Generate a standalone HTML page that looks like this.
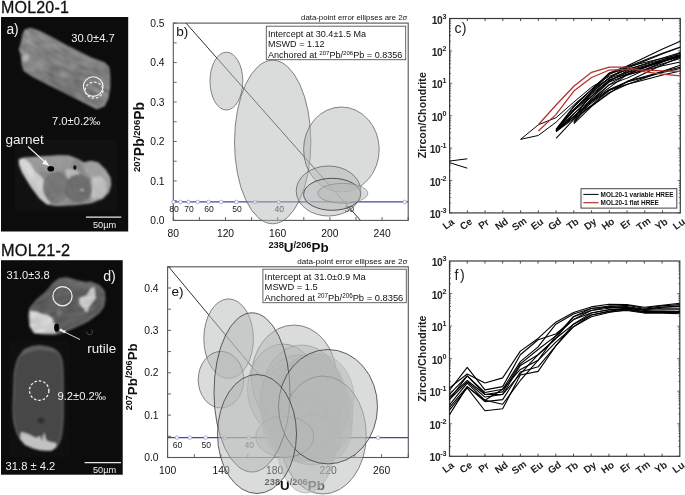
<!DOCTYPE html>
<html><head><meta charset="utf-8"><style>
html,body{margin:0;padding:0;background:#fff;width:685px;height:495px;overflow:hidden}
svg{display:block;will-change:transform}
text{font-family:"Liberation Sans", sans-serif}
</style></head><body>
<svg width="685" height="495" viewBox="0 0 685 495">
<defs>
<filter id="blur" x="-10%" y="-10%" width="120%" height="120%"><feGaussianBlur stdDeviation="0.9"/></filter>
<filter id="noise" x="0" y="0" width="100%" height="100%" color-interpolation-filters="sRGB"><feTurbulence type="fractalNoise" baseFrequency="0.08 0.25" numOctaves="2" seed="4"/><feColorMatrix type="matrix" values="1 0 0 0 0  1 0 0 0 0  1 0 0 0 0  0 0 0 0 0.3"/><feComposite in2="SourceGraphic" operator="in"/></filter>
</defs>
<text x="1" y="12.7" font-size="16.0" fill="#111" font-weight="normal" text-anchor="start" letter-spacing="0.2" stroke="#111" stroke-width="0.3">MOL20-1</text>
<text x="1" y="255.6" font-size="16.3" fill="#111" font-weight="normal" text-anchor="start" letter-spacing="0.2" stroke="#111" stroke-width="0.3">MOL21-2</text>
<rect x="1" y="17" width="127.2" height="214.5" fill="#0c0c0d"/>
<rect x="1" y="260.2" width="121.7" height="214.5" fill="#0c0c0d"/>
<rect x="15" y="139.7" width="102" height="72" fill="#111"/>
<rect x="9" y="341" width="60" height="116" fill="#0f0f0f"/>
<g filter="url(#blur)">
<clipPath id="clipA"><polygon points="25,30.2 30.5,28.4 38.6,31.1 51.4,37.5 69.5,47.5 91.4,58.4 104.1,62.9 108.6,67.5 109.5,76.5 109.5,87.5 107.7,98.4 104.1,105.6 96.8,108.4 87.7,103.8 69.5,94.7 51.4,85.6 33.2,76.5 24.1,70.2 22.3,63.8 21.4,54.7 19.5,49.3 21.4,43.8 23.2,34.7"/></clipPath>
<polygon points="25,30.2 30.5,28.4 38.6,31.1 51.4,37.5 69.5,47.5 91.4,58.4 104.1,62.9 108.6,67.5 109.5,76.5 109.5,87.5 107.7,98.4 104.1,105.6 96.8,108.4 87.7,103.8 69.5,94.7 51.4,85.6 33.2,76.5 24.1,70.2 22.3,63.8 21.4,54.7 19.5,49.3 21.4,43.8 23.2,34.7" fill="#7c7c7c" stroke="#959595" stroke-width="1.4"/>
<polygon points="25,30.2 30.5,28.4 38.6,31.1 51.4,37.5 69.5,47.5 91.4,58.4 104.1,62.9 98,66 80,60 60,52 42,47 28,46 22.5,40" fill="#8a8a8a" />
<polygon points="21.5,46 30,45 36,52 40,62 34,72 26,70 22.3,63.8 21.4,54.7" fill="#8e8e8e" />
<ellipse cx="25.5" cy="58" rx="3.2" ry="3.6" fill="#c4c4c4"/>
<polygon points="45,72 70,78 92,92 96,104 88,103 69.5,94.7 51.4,85.6" fill="#717171" />
<ellipse cx="103" cy="95" rx="3" ry="5" fill="#888"/>
<g clip-path="url(#clipA)"><g transform="rotate(27 65 68)"><rect x="-10" y="10" width="150" height="120" filter="url(#noise)"/></g></g>
</g>
<circle cx="93.2" cy="86.6" r="9.8" fill="none" stroke="#f4f4f4" stroke-width="1.1"/>
<ellipse cx="94.1" cy="90.2" rx="8.9" ry="8.0" fill="none" stroke="#f4f4f4" stroke-width="1.2" stroke-dasharray="2.6,1.8"/>
<text x="6.4" y="33.9" font-size="13.8" fill="#f0f0f0" font-weight="normal" text-anchor="start" >a)</text>
<text x="71.3" y="42" font-size="11.2" fill="#f0f0f0" font-weight="normal" text-anchor="start" >30.0±4.7</text>
<text x="52" y="124.6" font-size="11.2" fill="#f0f0f0" font-weight="normal" text-anchor="start" >7.0±0.2‰</text>
<g filter="url(#blur)">
<clipPath id="clipB"><polygon points="19.4,159.5 23.8,158 58.8,155.8 69,156.1 77.8,159.5 83.6,163.1 90.9,161.4 98.2,163.1 105.5,170.4 109.9,177.7 110.6,185 108.4,192.3 102.6,198.2 90.9,202.6 73.4,204.7 55.9,205.5 47.1,204 39.8,198.2 31.1,186.5 22.3,171.9 19.4,164.6"/></clipPath>
<polygon points="19.4,159.5 23.8,158 58.8,155.8 69,156.1 77.8,159.5 83.6,163.1 90.9,161.4 98.2,163.1 105.5,170.4 109.9,177.7 110.6,185 108.4,192.3 102.6,198.2 90.9,202.6 73.4,204.7 55.9,205.5 47.1,204 39.8,198.2 31.1,186.5 22.3,171.9 19.4,164.6" fill="#8c8c8c" stroke="#a8a8a8" stroke-width="1.2"/>
<polygon points="23.8,158.5 58.8,155.8 69,156.1 73.4,158.8 70.5,169 58.8,171.9 44.2,171.9 34,170.4" fill="#9c9c9c" />
<polygon points="83.6,163.1 90.9,161.4 98.2,163.1 105.5,170.4 109.9,177.7 110.6,185 108.4,192.3 102.6,198.2 90.9,202.6 89.5,193.8 90.9,179.2 85.1,171.9" fill="#a4a4a4" />
<polygon points="92,178 100,176 106,182 107,190 103,197 93,199 90,190" fill="#c6c6c6" />
<polygon points="64.6,170 72,169 79.2,172 76,180.7 70,181 66,176" fill="#bdbdbd" />
<polygon points="19.4,159.5 23.8,158.5 29.6,163.1 34,170.4 39.1,174.8 43.5,179.2 44.9,188 46.4,198.2 50,203.3 47.1,204.3 39.8,198.2 31.1,186.5 22.3,171.9 19.4,164.6" fill="#d4d4d4" />
<polygon points="19.4,159.5 23.8,158.5 29.6,163.1 34,170.4 33,178 25,172 20,165" fill="#e2e2e2" />
<ellipse cx="56" cy="187.3" rx="13.2" ry="15.5" fill="#767676"/>
<ellipse cx="78.5" cy="188.7" rx="13.6" ry="14.2" fill="#6b6b6b"/>
<ellipse cx="82" cy="190" rx="2" ry="1.2" fill="#bbb"/>
<g clip-path="url(#clipB)"><g transform="rotate(60 65 180)"><rect x="0" y="120" width="130" height="120" filter="url(#noise)" opacity="0.35"/></g></g>
</g>
<ellipse cx="50.8" cy="168.7" rx="3.4" ry="2.8" fill="#050505"/>
<ellipse cx="74.9" cy="167.5" rx="1.6" ry="2.3" fill="#111"/>
<line x1="28" y1="146.5" x2="45.5" y2="162.5" stroke="#f2f2f2" stroke-width="1.1"/>
<polygon points="49.3,166 41.9,163.7 45.6,159.4" fill="#f2f2f2" />
<text x="5.6" y="143.8" font-size="13.5" fill="#f0f0f0" font-weight="normal" text-anchor="start" >garnet</text>
<line x1="85.9" y1="217.2" x2="121.3" y2="217.2" stroke="#e8e8e8" stroke-width="1.2"/>
<text x="93" y="227.6" font-size="9.2" fill="#f0f0f0" font-weight="normal" text-anchor="start" >50µm</text>
<g filter="url(#blur)">
<clipPath id="clipD"><polygon points="59.6,278.5 66.7,277.8 76.6,280.6 85.1,282.7 90.8,282 99.2,285.6 104.2,291.2 104.9,298.3 103.5,306.8 99.2,312.5 93.6,316.7 87.9,320.9 79.4,325.2 69.5,329.4 61,333 55.4,334.4 45.5,334.4 34.2,333 29.9,326.6 28.5,315.3 29.9,308.2 37,299.7 45.5,292.6 54,282.7"/></clipPath>
<polygon points="59.6,278.5 66.7,277.8 76.6,280.6 85.1,282.7 90.8,282 99.2,285.6 104.2,291.2 104.9,298.3 103.5,306.8 99.2,312.5 93.6,316.7 87.9,320.9 79.4,325.2 69.5,329.4 61,333 55.4,334.4 45.5,334.4 34.2,333 29.9,326.6 28.5,315.3 29.9,308.2 37,299.7 45.5,292.6 54,282.7" fill="#595959" stroke="#6c6c6c" stroke-width="1.2"/>
<polygon points="59.6,278.5 66.7,277.8 76.6,280.6 85.1,282.7 90.8,282 99.2,285.6 95,290 80,288 65,284 55,284" fill="#666" />
<polygon points="29.9,311 37,311.7 42,314 48.3,315.3 52.5,318.8 54,323.8 56.8,325.2 55.4,333.3 34.2,333 29.9,325.8" fill="#dedede" />
<polygon points="79.4,298.3 86.5,295.5 90.8,288.4 94.3,287 95.7,298.3 92.2,302.5 89.3,306.8 86.5,312.5 83.7,308.2 79.4,304" fill="#d6d6d6" />
<polygon points="56,311 60,309 62,313 58,315" fill="#7a7a7a" />
<g clip-path="url(#clipD)"><g transform="rotate(-20 66 306)"><rect x="0" y="250" width="140" height="110" filter="url(#noise)" opacity="0.5"/></g></g>
</g>
<circle cx="62.5" cy="296.2" r="9.6" fill="none" stroke="#f2f2f2" stroke-width="1.2"/>
<ellipse cx="56.6" cy="327.6" rx="2.5" ry="4.2" fill="#050505"/>
<path d="M86.5,331.5 a3,3 0 1 0 5,-2" fill="none" stroke="#555" stroke-width="0.8"/>
<line x1="80" y1="339.5" x2="62.5" y2="331" stroke="#f2f2f2" stroke-width="0.9"/>
<polygon points="60,329.8 66,330.4 64.2,333.6" fill="#f2f2f2" />
<circle cx="61" cy="330" r="1.6" fill="#fff" opacity="0.8"/>
<text x="6.6" y="278.6" font-size="11.1" fill="#f0f0f0" font-weight="normal" text-anchor="start" >31.0±3.8</text>
<text x="103.2" y="280.7" font-size="14.2" fill="#f0f0f0" font-weight="normal" text-anchor="start" >d)</text>
<text x="87.2" y="353" font-size="13.4" fill="#f0f0f0" font-weight="normal" text-anchor="start" >rutile</text>
<g filter="url(#blur)">
<path d="M21.3,354 Q24,349 28.3,348.1 Q34,345.5 39.9,345.8 Q46,346 51.5,348.1 Q56,350 58.5,352.8 Q61,356 62,360.9 Q63.2,372 63.1,386.5 L63.1,416.7 Q62.5,430 60.8,437.7 Q59,444 56.2,447 Q52,450.5 46.9,450.5 Q39,450 32.9,448.1 Q25,445 21.3,440 Q17,435 15.5,428.4 Q13,420 13.1,409.8 L14.3,374.9 Q15,368 16.6,363.3 Q18,357 21.3,354 Z" fill="#474747" stroke="#6a6a6a" stroke-width="1.2"/>
<path d="M21.3,354 Q24,349 28.3,348.1 Q34,345.5 39.9,345.8 Q46,346 51.5,348.1 Q56,350 58.5,352.8 Q52,351 40,350 Q28,351 21.3,356 Z" fill="#606060"/>
<polygon points="21,432 28,434 36,438 40,436 42,441 44,432 46,440 50,442 56,443 56.2,447 52,450.5 46.9,450.5 39,450 32.9,448.1 25,445 20,439" fill="#c2c2c2" />
<ellipse cx="41" cy="420.5" rx="3.5" ry="3" fill="#2e2e2e"/>
</g>
<circle cx="39.2" cy="390.6" r="9.7" fill="none" stroke="#f2f2f2" stroke-width="1.3" stroke-dasharray="2.6,1.9"/>
<text x="57.5" y="400.2" font-size="11.2" fill="#f0f0f0" font-weight="normal" text-anchor="start" >9.2±0.2‰</text>
<text x="5.6" y="470.4" font-size="11.2" fill="#f0f0f0" font-weight="normal" text-anchor="start" >31.8 ± 4.2</text>
<line x1="84.6" y1="462.7" x2="121" y2="462.7" stroke="#e8e8e8" stroke-width="1.2"/>
<text x="93" y="473.2" font-size="9.2" fill="#f0f0f0" font-weight="normal" text-anchor="start" >50µm</text>
<clipPath id="cb"><rect x="173.3" y="23.1" width="234.9" height="197.3"/></clipPath>
<rect x="173.3" y="23.1" width="234.9" height="197.3" fill="#fff" stroke="#555" stroke-width="1.1"/>
<line x1="173.3" y1="220.4" x2="173.3" y2="217" stroke="#555" stroke-width="0.9"/>
<text x="173.3" y="237.1" font-size="10.3" fill="#111" font-weight="normal" text-anchor="middle" >80</text>
<line x1="199.4" y1="220.4" x2="199.4" y2="217" stroke="#555" stroke-width="0.9"/>
<line x1="225.5" y1="220.4" x2="225.5" y2="217" stroke="#555" stroke-width="0.9"/>
<text x="225.5" y="237.1" font-size="10.3" fill="#111" font-weight="normal" text-anchor="middle" >120</text>
<line x1="251.6" y1="220.4" x2="251.6" y2="217" stroke="#555" stroke-width="0.9"/>
<line x1="277.7" y1="220.4" x2="277.7" y2="217" stroke="#555" stroke-width="0.9"/>
<text x="277.7" y="237.1" font-size="10.3" fill="#111" font-weight="normal" text-anchor="middle" >160</text>
<line x1="303.8" y1="220.4" x2="303.8" y2="217" stroke="#555" stroke-width="0.9"/>
<line x1="329.9" y1="220.4" x2="329.9" y2="217" stroke="#555" stroke-width="0.9"/>
<text x="329.9" y="237.1" font-size="10.3" fill="#111" font-weight="normal" text-anchor="middle" >200</text>
<line x1="356" y1="220.4" x2="356" y2="217" stroke="#555" stroke-width="0.9"/>
<line x1="382.1" y1="220.4" x2="382.1" y2="217" stroke="#555" stroke-width="0.9"/>
<text x="382.1" y="237.1" font-size="10.3" fill="#111" font-weight="normal" text-anchor="middle" >240</text>
<line x1="408.2" y1="220.4" x2="408.2" y2="217" stroke="#555" stroke-width="0.9"/>
<line x1="173.3" y1="220.4" x2="176.7" y2="220.4" stroke="#555" stroke-width="0.9"/>
<text x="164.5" y="224.1" font-size="10.3" fill="#111" font-weight="normal" text-anchor="end" >0.0</text>
<line x1="173.3" y1="200.67" x2="176.7" y2="200.67" stroke="#555" stroke-width="0.9"/>
<line x1="173.3" y1="180.94" x2="176.7" y2="180.94" stroke="#555" stroke-width="0.9"/>
<text x="164.5" y="184.64" font-size="10.3" fill="#111" font-weight="normal" text-anchor="end" >0.1</text>
<line x1="173.3" y1="161.21" x2="176.7" y2="161.21" stroke="#555" stroke-width="0.9"/>
<line x1="173.3" y1="141.48" x2="176.7" y2="141.48" stroke="#555" stroke-width="0.9"/>
<text x="164.5" y="145.18" font-size="10.3" fill="#111" font-weight="normal" text-anchor="end" >0.2</text>
<line x1="173.3" y1="121.75" x2="176.7" y2="121.75" stroke="#555" stroke-width="0.9"/>
<line x1="173.3" y1="102.02" x2="176.7" y2="102.02" stroke="#555" stroke-width="0.9"/>
<text x="164.5" y="105.72" font-size="10.3" fill="#111" font-weight="normal" text-anchor="end" >0.3</text>
<line x1="173.3" y1="82.29" x2="176.7" y2="82.29" stroke="#555" stroke-width="0.9"/>
<line x1="173.3" y1="62.56" x2="176.7" y2="62.56" stroke="#555" stroke-width="0.9"/>
<text x="164.5" y="66.26" font-size="10.3" fill="#111" font-weight="normal" text-anchor="end" >0.4</text>
<line x1="173.3" y1="42.83" x2="176.7" y2="42.83" stroke="#555" stroke-width="0.9"/>
<line x1="173.3" y1="23.1" x2="176.7" y2="23.1" stroke="#555" stroke-width="0.9"/>
<text x="164.5" y="26.8" font-size="10.3" fill="#111" font-weight="normal" text-anchor="end" >0.5</text>
<line x1="186" y1="23.1" x2="360.5" y2="220.4" stroke="#333" stroke-width="1" clip-path="url(#cb)"/>
<line x1="173.3" y1="201.93" x2="408.2" y2="201.93" stroke="#3b4a9c" stroke-width="1.3"/>
<circle cx="404.75" cy="201.93" r="1.8" fill="#fff" stroke="#8a93c8" stroke-width="0.7"/>
<circle cx="348.67" cy="201.93" r="1.8" fill="#fff" stroke="#8a93c8" stroke-width="0.7"/>
<text x="349.27" y="211.93" font-size="8.6" fill="#222" font-weight="normal" text-anchor="middle" >30</text>
<circle cx="308.61" cy="201.93" r="1.8" fill="#fff" stroke="#8a93c8" stroke-width="0.7"/>
<circle cx="278.56" cy="201.93" r="1.8" fill="#fff" stroke="#8a93c8" stroke-width="0.7"/>
<text x="279.16" y="211.93" font-size="8.6" fill="#222" font-weight="normal" text-anchor="middle" >40</text>
<circle cx="255.19" cy="201.93" r="1.8" fill="#fff" stroke="#8a93c8" stroke-width="0.7"/>
<circle cx="236.5" cy="201.93" r="1.8" fill="#fff" stroke="#8a93c8" stroke-width="0.7"/>
<text x="237.1" y="211.93" font-size="8.6" fill="#222" font-weight="normal" text-anchor="middle" >50</text>
<circle cx="221.2" cy="201.93" r="1.8" fill="#fff" stroke="#8a93c8" stroke-width="0.7"/>
<circle cx="208.46" cy="201.93" r="1.8" fill="#fff" stroke="#8a93c8" stroke-width="0.7"/>
<text x="209.06" y="211.93" font-size="8.6" fill="#222" font-weight="normal" text-anchor="middle" >60</text>
<circle cx="197.67" cy="201.93" r="1.8" fill="#fff" stroke="#8a93c8" stroke-width="0.7"/>
<circle cx="188.43" cy="201.93" r="1.8" fill="#fff" stroke="#8a93c8" stroke-width="0.7"/>
<text x="189.03" y="211.93" font-size="8.6" fill="#222" font-weight="normal" text-anchor="middle" >70</text>
<circle cx="180.42" cy="201.93" r="1.8" fill="#fff" stroke="#8a93c8" stroke-width="0.7"/>
<circle cx="173.41" cy="201.93" r="1.8" fill="#fff" stroke="#8a93c8" stroke-width="0.7"/>
<text x="174.01" y="211.93" font-size="8.6" fill="#222" font-weight="normal" text-anchor="middle" >80</text>
<ellipse cx="226.4" cy="81.1" rx="16.4" ry="28.9" fill="#b6b8b8" fill-opacity="0.5" stroke="#555" stroke-width="0.7"/>
<ellipse cx="272.7" cy="142" rx="38.2" ry="81.8" fill="#b6b8b8" fill-opacity="0.5" stroke="#555" stroke-width="0.7"/>
<ellipse cx="341.4" cy="149.5" rx="37.8" ry="42.5" fill="#b6b8b8" fill-opacity="0.5" stroke="#555" stroke-width="0.7"/>
<ellipse cx="328.5" cy="191" rx="32.3" ry="25" fill="#b6b8b8" fill-opacity="0.5" stroke="#555" stroke-width="0.7"/>
<ellipse cx="332.2" cy="194.3" rx="28.6" ry="16" fill="#b6b8b8" fill-opacity="0.5" stroke="#3a3a3a" stroke-width="0.85"/>
<ellipse cx="342.8" cy="193.3" rx="25" ry="9.9" fill="#b6b8b8" fill-opacity="0.5" stroke="#888" stroke-width="0.7"/>
<text x="407.3" y="20.4" font-size="7.8" fill="#111" font-weight="normal" text-anchor="end" >data-point error ellipses are 2σ</text>
<rect x="266.3" y="26.2" width="139.4" height="33.5" fill="#fff" stroke="#555" stroke-width="0.9"/>
<text x="268" y="36.5" font-size="9.05" fill="#111" font-weight="normal" text-anchor="start" >Intercept at 30.4±1.5 Ma</text>
<text x="268" y="47.2" font-size="9.05" fill="#111" font-weight="normal" text-anchor="start" >MSWD = 1.12</text>
<text x="268" y="57.9" font-size="9.05" fill="#111">Anchored at <tspan font-size="6.10" dy="-3.4">207</tspan><tspan dy="3.4">Pb/</tspan><tspan font-size="6.10" dy="-3.4">206</tspan><tspan dy="3.4">Pb = 0.8356</tspan></text>
<text x="176.2" y="36.4" font-size="13.6" fill="#111" font-weight="normal" text-anchor="start" >b)</text>
<text transform="translate(144,137) rotate(-90)" font-size="14.0" font-weight="bold" fill="#111" text-anchor="middle"><tspan font-size="9.52" dy="-4.4">207</tspan><tspan dy="4.4">Pb</tspan><tspan font-size="9.52" dy="-4.4">/206</tspan><tspan dy="4.4">Pb</tspan></text>
<text x="268.4" y="252.3" font-size="13.4" font-weight="bold" fill="#111"><tspan font-size="9.25" dy="-4.6">238</tspan><tspan dy="4.6">U</tspan><tspan font-size="9.25" dy="-4.6">/206</tspan><tspan dy="4.6">Pb</tspan></text>
<clipPath id="ce"><rect x="167.6" y="266.8" width="240.7" height="190.7"/></clipPath>
<text x="264.6" y="489.5" font-size="13.4" font-weight="bold" fill="#111"><tspan font-size="9.25" dy="-4.6">238</tspan><tspan dy="4.6">U</tspan><tspan font-size="9.25" dy="-4.6">/206</tspan><tspan dy="4.6">Pb</tspan></text>
<rect x="167.6" y="266.8" width="240.7" height="190.7" fill="#fff" stroke="#555" stroke-width="1.1"/>
<line x1="167.6" y1="457.5" x2="167.6" y2="454.1" stroke="#555" stroke-width="0.9"/>
<text x="167.6" y="474.4" font-size="10.3" fill="#111" font-weight="normal" text-anchor="middle" >100</text>
<line x1="194.34" y1="457.5" x2="194.34" y2="454.1" stroke="#555" stroke-width="0.9"/>
<line x1="221.09" y1="457.5" x2="221.09" y2="454.1" stroke="#555" stroke-width="0.9"/>
<text x="221.09" y="474.4" font-size="10.3" fill="#111" font-weight="normal" text-anchor="middle" >140</text>
<line x1="247.83" y1="457.5" x2="247.83" y2="454.1" stroke="#555" stroke-width="0.9"/>
<line x1="274.58" y1="457.5" x2="274.58" y2="454.1" stroke="#555" stroke-width="0.9"/>
<text x="274.58" y="474.4" font-size="10.3" fill="#111" font-weight="normal" text-anchor="middle" >180</text>
<line x1="301.32" y1="457.5" x2="301.32" y2="454.1" stroke="#555" stroke-width="0.9"/>
<line x1="328.07" y1="457.5" x2="328.07" y2="454.1" stroke="#555" stroke-width="0.9"/>
<text x="328.07" y="474.4" font-size="10.3" fill="#111" font-weight="normal" text-anchor="middle" >220</text>
<line x1="354.81" y1="457.5" x2="354.81" y2="454.1" stroke="#555" stroke-width="0.9"/>
<line x1="381.56" y1="457.5" x2="381.56" y2="454.1" stroke="#555" stroke-width="0.9"/>
<text x="381.56" y="474.4" font-size="10.3" fill="#111" font-weight="normal" text-anchor="middle" >260</text>
<line x1="408.3" y1="457.5" x2="408.3" y2="454.1" stroke="#555" stroke-width="0.9"/>
<line x1="167.6" y1="457.5" x2="171" y2="457.5" stroke="#555" stroke-width="0.9"/>
<text x="158.5" y="461.2" font-size="10.3" fill="#111" font-weight="normal" text-anchor="end" >0.0</text>
<line x1="167.6" y1="436.31" x2="171" y2="436.31" stroke="#555" stroke-width="0.9"/>
<line x1="167.6" y1="415.12" x2="171" y2="415.12" stroke="#555" stroke-width="0.9"/>
<text x="158.5" y="418.82" font-size="10.3" fill="#111" font-weight="normal" text-anchor="end" >0.1</text>
<line x1="167.6" y1="393.93" x2="171" y2="393.93" stroke="#555" stroke-width="0.9"/>
<line x1="167.6" y1="372.74" x2="171" y2="372.74" stroke="#555" stroke-width="0.9"/>
<text x="158.5" y="376.44" font-size="10.3" fill="#111" font-weight="normal" text-anchor="end" >0.2</text>
<line x1="167.6" y1="351.56" x2="171" y2="351.56" stroke="#555" stroke-width="0.9"/>
<line x1="167.6" y1="330.37" x2="171" y2="330.37" stroke="#555" stroke-width="0.9"/>
<text x="158.5" y="334.07" font-size="10.3" fill="#111" font-weight="normal" text-anchor="end" >0.3</text>
<line x1="167.6" y1="309.18" x2="171" y2="309.18" stroke="#555" stroke-width="0.9"/>
<line x1="167.6" y1="287.99" x2="171" y2="287.99" stroke="#555" stroke-width="0.9"/>
<text x="158.5" y="291.69" font-size="10.3" fill="#111" font-weight="normal" text-anchor="end" >0.4</text>
<line x1="167.6" y1="266.8" x2="171" y2="266.8" stroke="#555" stroke-width="0.9"/>
<line x1="167.6" y1="265.5" x2="327.5" y2="457.5" stroke="#333" stroke-width="1" clip-path="url(#ce)"/>
<line x1="167.6" y1="437.67" x2="408.3" y2="437.67" stroke="#3b4a9c" stroke-width="1.3"/>
<circle cx="378.02" cy="437.67" r="1.8" fill="#fff" stroke="#8a93c8" stroke-width="0.7"/>
<circle cx="320.55" cy="437.67" r="1.8" fill="#fff" stroke="#8a93c8" stroke-width="0.7"/>
<text x="321.15" y="447.67" font-size="8.6" fill="#222" font-weight="normal" text-anchor="middle" >30</text>
<circle cx="279.5" cy="437.67" r="1.8" fill="#fff" stroke="#8a93c8" stroke-width="0.7"/>
<circle cx="248.72" cy="437.67" r="1.8" fill="#fff" stroke="#8a93c8" stroke-width="0.7"/>
<text x="249.32" y="447.67" font-size="8.6" fill="#222" font-weight="normal" text-anchor="middle" >40</text>
<circle cx="224.77" cy="437.67" r="1.8" fill="#fff" stroke="#8a93c8" stroke-width="0.7"/>
<circle cx="205.62" cy="437.67" r="1.8" fill="#fff" stroke="#8a93c8" stroke-width="0.7"/>
<text x="206.22" y="447.67" font-size="8.6" fill="#222" font-weight="normal" text-anchor="middle" >50</text>
<circle cx="189.94" cy="437.67" r="1.8" fill="#fff" stroke="#8a93c8" stroke-width="0.7"/>
<circle cx="176.88" cy="437.67" r="1.8" fill="#fff" stroke="#8a93c8" stroke-width="0.7"/>
<text x="177.48" y="447.67" font-size="8.6" fill="#222" font-weight="normal" text-anchor="middle" >60</text>
<ellipse cx="228.6" cy="338.7" rx="24.8" ry="39.8" fill="#b6b8b8" fill-opacity="0.5" stroke="#555" stroke-width="0.7"/>
<ellipse cx="221" cy="379.7" rx="22.8" ry="28.3" fill="#b6b8b8" fill-opacity="0.5" stroke="#555" stroke-width="0.7"/>
<ellipse cx="294" cy="377" rx="42.5" ry="52" fill="#b6b8b8" fill-opacity="0.5" stroke="#555" stroke-width="0.7"/>
<ellipse cx="283" cy="389" rx="35.5" ry="45" fill="#b6b8b8" fill-opacity="0.5" stroke="#888" stroke-width="0.7"/>
<ellipse cx="300" cy="400" rx="40" ry="45" fill="#b6b8b8" fill-opacity="0.5" stroke="#999" stroke-width="0.7"/>
<ellipse cx="310" cy="405" rx="38" ry="48" fill="#b6b8b8" fill-opacity="0.5" stroke="#999" stroke-width="0.7"/>
<ellipse cx="318" cy="398" rx="36" ry="44" fill="#b6b8b8" fill-opacity="0.5" stroke="#aaa" stroke-width="0.7"/>
<ellipse cx="296" cy="418" rx="32" ry="38" fill="#b6b8b8" fill-opacity="0.5" stroke="#aaa" stroke-width="0.7"/>
<ellipse cx="306" cy="425" rx="30" ry="30" fill="#b6b8b8" fill-opacity="0.5" stroke="#aaa" stroke-width="0.7"/>
<ellipse cx="302" cy="395" rx="40" ry="50" fill="#b6b8b8" fill-opacity="0.5" stroke="#999" stroke-width="0.7"/>
<ellipse cx="305" cy="412" rx="35" ry="42" fill="#b6b8b8" fill-opacity="0.5" stroke="#aaa" stroke-width="0.7"/>
<ellipse cx="315" cy="415" rx="38" ry="45" fill="#b6b8b8" fill-opacity="0.5" stroke="#aaa" stroke-width="0.7"/>
<ellipse cx="290" cy="405" rx="30" ry="40" fill="#b6b8b8" fill-opacity="0.5" stroke="#aaa" stroke-width="0.7"/>
<ellipse cx="322" cy="428" rx="30" ry="35" fill="#b6b8b8" fill-opacity="0.5" stroke="#aaa" stroke-width="0.7"/>
<ellipse cx="298" cy="432" rx="28" ry="28" fill="#b6b8b8" fill-opacity="0.5" stroke="#aaa" stroke-width="0.7"/>
<ellipse cx="312" cy="392" rx="32" ry="38" fill="#b6b8b8" fill-opacity="0.5" stroke="#aaa" stroke-width="0.7"/>
<ellipse cx="323" cy="435" rx="43.3" ry="59" fill="#b6b8b8" fill-opacity="0.5" stroke="#555" stroke-width="0.7"/>
<ellipse cx="306" cy="443" rx="29" ry="50" fill="#b6b8b8" fill-opacity="0.5" stroke="#aaa" stroke-width="0.7"/>
<ellipse cx="300" cy="430" rx="30" ry="32" fill="#b6b8b8" fill-opacity="0.5" stroke="#aaa" stroke-width="0.7"/>
<ellipse cx="288" cy="426" rx="25" ry="30" fill="#b6b8b8" fill-opacity="0.5" stroke="#aaa" stroke-width="0.7"/>
<ellipse cx="312" cy="440" rx="28" ry="25" fill="#b6b8b8" fill-opacity="0.5" stroke="#aaa" stroke-width="0.7"/>
<ellipse cx="284.7" cy="436.8" rx="29" ry="20.5" fill="#b6b8b8" fill-opacity="0.5" stroke="#777" stroke-width="0.7"/>
<ellipse cx="252" cy="392.4" rx="38" ry="79.6" fill="#b6b8b8" fill-opacity="0.5" stroke="#3a3a3a" stroke-width="0.8"/>
<ellipse cx="328" cy="406.7" rx="49.5" ry="57.2" fill="#b6b8b8" fill-opacity="0.5" stroke="#3a3a3a" stroke-width="0.8"/>
<ellipse cx="257" cy="434" rx="39.5" ry="59.5" fill="#b6b8b8" fill-opacity="0.5" stroke="#3a3a3a" stroke-width="0.8"/>
<text x="407.6" y="264.3" font-size="8.1" fill="#111" font-weight="normal" text-anchor="end" >data-point error ellipses are 2σ</text>
<rect x="262.9" y="269.2" width="143.4" height="33.5" fill="#fff" stroke="#555" stroke-width="0.9"/>
<text x="264.6" y="279.5" font-size="9.35" fill="#111" font-weight="normal" text-anchor="start" >Intercept at 31.0±0.9 Ma</text>
<text x="264.6" y="290.2" font-size="9.35" fill="#111" font-weight="normal" text-anchor="start" >MSWD = 1.5</text>
<text x="264.6" y="300.9" font-size="9.35" fill="#111">Anchored at <tspan font-size="6.30" dy="-3.4">207</tspan><tspan dy="3.4">Pb/</tspan><tspan font-size="6.30" dy="-3.4">206</tspan><tspan dy="3.4">Pb = 0.8356</tspan></text>
<text x="171.4" y="295.8" font-size="13.6" fill="#111" font-weight="normal" text-anchor="start" >e)</text>
<text transform="translate(136.8,376.8) rotate(-90)" font-size="13.4" font-weight="bold" fill="#111" text-anchor="middle"><tspan font-size="9.11" dy="-4.4">207</tspan><tspan dy="4.4">Pb</tspan><tspan font-size="9.11" dy="-4.4">/206</tspan><tspan dy="4.4">Pb</tspan></text>
<rect x="449.6" y="18.5" width="230.7" height="194.4" fill="#fff" stroke="#3a3a3a" stroke-width="1.2"/>
<line x1="467.35" y1="212.9" x2="467.35" y2="210.3" stroke="#3a3a3a" stroke-width="0.9"/>
<line x1="467.35" y1="18.5" x2="467.35" y2="21.1" stroke="#3a3a3a" stroke-width="0.9"/>
<line x1="485.09" y1="212.9" x2="485.09" y2="210.3" stroke="#3a3a3a" stroke-width="0.9"/>
<line x1="485.09" y1="18.5" x2="485.09" y2="21.1" stroke="#3a3a3a" stroke-width="0.9"/>
<line x1="502.84" y1="212.9" x2="502.84" y2="210.3" stroke="#3a3a3a" stroke-width="0.9"/>
<line x1="502.84" y1="18.5" x2="502.84" y2="21.1" stroke="#3a3a3a" stroke-width="0.9"/>
<line x1="520.58" y1="212.9" x2="520.58" y2="210.3" stroke="#3a3a3a" stroke-width="0.9"/>
<line x1="520.58" y1="18.5" x2="520.58" y2="21.1" stroke="#3a3a3a" stroke-width="0.9"/>
<line x1="538.33" y1="212.9" x2="538.33" y2="210.3" stroke="#3a3a3a" stroke-width="0.9"/>
<line x1="538.33" y1="18.5" x2="538.33" y2="21.1" stroke="#3a3a3a" stroke-width="0.9"/>
<line x1="556.08" y1="212.9" x2="556.08" y2="210.3" stroke="#3a3a3a" stroke-width="0.9"/>
<line x1="556.08" y1="18.5" x2="556.08" y2="21.1" stroke="#3a3a3a" stroke-width="0.9"/>
<line x1="573.82" y1="212.9" x2="573.82" y2="210.3" stroke="#3a3a3a" stroke-width="0.9"/>
<line x1="573.82" y1="18.5" x2="573.82" y2="21.1" stroke="#3a3a3a" stroke-width="0.9"/>
<line x1="591.57" y1="212.9" x2="591.57" y2="210.3" stroke="#3a3a3a" stroke-width="0.9"/>
<line x1="591.57" y1="18.5" x2="591.57" y2="21.1" stroke="#3a3a3a" stroke-width="0.9"/>
<line x1="609.32" y1="212.9" x2="609.32" y2="210.3" stroke="#3a3a3a" stroke-width="0.9"/>
<line x1="609.32" y1="18.5" x2="609.32" y2="21.1" stroke="#3a3a3a" stroke-width="0.9"/>
<line x1="627.06" y1="212.9" x2="627.06" y2="210.3" stroke="#3a3a3a" stroke-width="0.9"/>
<line x1="627.06" y1="18.5" x2="627.06" y2="21.1" stroke="#3a3a3a" stroke-width="0.9"/>
<line x1="644.81" y1="212.9" x2="644.81" y2="210.3" stroke="#3a3a3a" stroke-width="0.9"/>
<line x1="644.81" y1="18.5" x2="644.81" y2="21.1" stroke="#3a3a3a" stroke-width="0.9"/>
<line x1="662.55" y1="212.9" x2="662.55" y2="210.3" stroke="#3a3a3a" stroke-width="0.9"/>
<line x1="662.55" y1="18.5" x2="662.55" y2="21.1" stroke="#3a3a3a" stroke-width="0.9"/>
<line x1="449.6" y1="212.9" x2="452.2" y2="212.9" stroke="#3a3a3a" stroke-width="0.7"/>
<line x1="680.3" y1="212.9" x2="677.7" y2="212.9" stroke="#3a3a3a" stroke-width="0.7"/>
<line x1="449.6" y1="203.15" x2="451.1" y2="203.15" stroke="#3a3a3a" stroke-width="0.7"/>
<line x1="680.3" y1="203.15" x2="678.8" y2="203.15" stroke="#3a3a3a" stroke-width="0.7"/>
<line x1="449.6" y1="197.44" x2="451.1" y2="197.44" stroke="#3a3a3a" stroke-width="0.7"/>
<line x1="680.3" y1="197.44" x2="678.8" y2="197.44" stroke="#3a3a3a" stroke-width="0.7"/>
<line x1="449.6" y1="193.39" x2="451.1" y2="193.39" stroke="#3a3a3a" stroke-width="0.7"/>
<line x1="680.3" y1="193.39" x2="678.8" y2="193.39" stroke="#3a3a3a" stroke-width="0.7"/>
<line x1="449.6" y1="190.25" x2="451.1" y2="190.25" stroke="#3a3a3a" stroke-width="0.7"/>
<line x1="680.3" y1="190.25" x2="678.8" y2="190.25" stroke="#3a3a3a" stroke-width="0.7"/>
<line x1="449.6" y1="187.69" x2="451.1" y2="187.69" stroke="#3a3a3a" stroke-width="0.7"/>
<line x1="680.3" y1="187.69" x2="678.8" y2="187.69" stroke="#3a3a3a" stroke-width="0.7"/>
<line x1="449.6" y1="185.52" x2="451.1" y2="185.52" stroke="#3a3a3a" stroke-width="0.7"/>
<line x1="680.3" y1="185.52" x2="678.8" y2="185.52" stroke="#3a3a3a" stroke-width="0.7"/>
<line x1="449.6" y1="183.64" x2="451.1" y2="183.64" stroke="#3a3a3a" stroke-width="0.7"/>
<line x1="680.3" y1="183.64" x2="678.8" y2="183.64" stroke="#3a3a3a" stroke-width="0.7"/>
<line x1="449.6" y1="181.98" x2="451.1" y2="181.98" stroke="#3a3a3a" stroke-width="0.7"/>
<line x1="680.3" y1="181.98" x2="678.8" y2="181.98" stroke="#3a3a3a" stroke-width="0.7"/>
<line x1="449.6" y1="180.5" x2="452.2" y2="180.5" stroke="#3a3a3a" stroke-width="0.7"/>
<line x1="680.3" y1="180.5" x2="677.7" y2="180.5" stroke="#3a3a3a" stroke-width="0.7"/>
<line x1="449.6" y1="170.75" x2="451.1" y2="170.75" stroke="#3a3a3a" stroke-width="0.7"/>
<line x1="680.3" y1="170.75" x2="678.8" y2="170.75" stroke="#3a3a3a" stroke-width="0.7"/>
<line x1="449.6" y1="165.04" x2="451.1" y2="165.04" stroke="#3a3a3a" stroke-width="0.7"/>
<line x1="680.3" y1="165.04" x2="678.8" y2="165.04" stroke="#3a3a3a" stroke-width="0.7"/>
<line x1="449.6" y1="160.99" x2="451.1" y2="160.99" stroke="#3a3a3a" stroke-width="0.7"/>
<line x1="680.3" y1="160.99" x2="678.8" y2="160.99" stroke="#3a3a3a" stroke-width="0.7"/>
<line x1="449.6" y1="157.85" x2="451.1" y2="157.85" stroke="#3a3a3a" stroke-width="0.7"/>
<line x1="680.3" y1="157.85" x2="678.8" y2="157.85" stroke="#3a3a3a" stroke-width="0.7"/>
<line x1="449.6" y1="155.29" x2="451.1" y2="155.29" stroke="#3a3a3a" stroke-width="0.7"/>
<line x1="680.3" y1="155.29" x2="678.8" y2="155.29" stroke="#3a3a3a" stroke-width="0.7"/>
<line x1="449.6" y1="153.12" x2="451.1" y2="153.12" stroke="#3a3a3a" stroke-width="0.7"/>
<line x1="680.3" y1="153.12" x2="678.8" y2="153.12" stroke="#3a3a3a" stroke-width="0.7"/>
<line x1="449.6" y1="151.24" x2="451.1" y2="151.24" stroke="#3a3a3a" stroke-width="0.7"/>
<line x1="680.3" y1="151.24" x2="678.8" y2="151.24" stroke="#3a3a3a" stroke-width="0.7"/>
<line x1="449.6" y1="149.58" x2="451.1" y2="149.58" stroke="#3a3a3a" stroke-width="0.7"/>
<line x1="680.3" y1="149.58" x2="678.8" y2="149.58" stroke="#3a3a3a" stroke-width="0.7"/>
<line x1="449.6" y1="148.1" x2="452.2" y2="148.1" stroke="#3a3a3a" stroke-width="0.7"/>
<line x1="680.3" y1="148.1" x2="677.7" y2="148.1" stroke="#3a3a3a" stroke-width="0.7"/>
<line x1="449.6" y1="138.35" x2="451.1" y2="138.35" stroke="#3a3a3a" stroke-width="0.7"/>
<line x1="680.3" y1="138.35" x2="678.8" y2="138.35" stroke="#3a3a3a" stroke-width="0.7"/>
<line x1="449.6" y1="132.64" x2="451.1" y2="132.64" stroke="#3a3a3a" stroke-width="0.7"/>
<line x1="680.3" y1="132.64" x2="678.8" y2="132.64" stroke="#3a3a3a" stroke-width="0.7"/>
<line x1="449.6" y1="128.59" x2="451.1" y2="128.59" stroke="#3a3a3a" stroke-width="0.7"/>
<line x1="680.3" y1="128.59" x2="678.8" y2="128.59" stroke="#3a3a3a" stroke-width="0.7"/>
<line x1="449.6" y1="125.45" x2="451.1" y2="125.45" stroke="#3a3a3a" stroke-width="0.7"/>
<line x1="680.3" y1="125.45" x2="678.8" y2="125.45" stroke="#3a3a3a" stroke-width="0.7"/>
<line x1="449.6" y1="122.89" x2="451.1" y2="122.89" stroke="#3a3a3a" stroke-width="0.7"/>
<line x1="680.3" y1="122.89" x2="678.8" y2="122.89" stroke="#3a3a3a" stroke-width="0.7"/>
<line x1="449.6" y1="120.72" x2="451.1" y2="120.72" stroke="#3a3a3a" stroke-width="0.7"/>
<line x1="680.3" y1="120.72" x2="678.8" y2="120.72" stroke="#3a3a3a" stroke-width="0.7"/>
<line x1="449.6" y1="118.84" x2="451.1" y2="118.84" stroke="#3a3a3a" stroke-width="0.7"/>
<line x1="680.3" y1="118.84" x2="678.8" y2="118.84" stroke="#3a3a3a" stroke-width="0.7"/>
<line x1="449.6" y1="117.18" x2="451.1" y2="117.18" stroke="#3a3a3a" stroke-width="0.7"/>
<line x1="680.3" y1="117.18" x2="678.8" y2="117.18" stroke="#3a3a3a" stroke-width="0.7"/>
<line x1="449.6" y1="115.7" x2="452.2" y2="115.7" stroke="#3a3a3a" stroke-width="0.7"/>
<line x1="680.3" y1="115.7" x2="677.7" y2="115.7" stroke="#3a3a3a" stroke-width="0.7"/>
<line x1="449.6" y1="105.95" x2="451.1" y2="105.95" stroke="#3a3a3a" stroke-width="0.7"/>
<line x1="680.3" y1="105.95" x2="678.8" y2="105.95" stroke="#3a3a3a" stroke-width="0.7"/>
<line x1="449.6" y1="100.24" x2="451.1" y2="100.24" stroke="#3a3a3a" stroke-width="0.7"/>
<line x1="680.3" y1="100.24" x2="678.8" y2="100.24" stroke="#3a3a3a" stroke-width="0.7"/>
<line x1="449.6" y1="96.19" x2="451.1" y2="96.19" stroke="#3a3a3a" stroke-width="0.7"/>
<line x1="680.3" y1="96.19" x2="678.8" y2="96.19" stroke="#3a3a3a" stroke-width="0.7"/>
<line x1="449.6" y1="93.05" x2="451.1" y2="93.05" stroke="#3a3a3a" stroke-width="0.7"/>
<line x1="680.3" y1="93.05" x2="678.8" y2="93.05" stroke="#3a3a3a" stroke-width="0.7"/>
<line x1="449.6" y1="90.49" x2="451.1" y2="90.49" stroke="#3a3a3a" stroke-width="0.7"/>
<line x1="680.3" y1="90.49" x2="678.8" y2="90.49" stroke="#3a3a3a" stroke-width="0.7"/>
<line x1="449.6" y1="88.32" x2="451.1" y2="88.32" stroke="#3a3a3a" stroke-width="0.7"/>
<line x1="680.3" y1="88.32" x2="678.8" y2="88.32" stroke="#3a3a3a" stroke-width="0.7"/>
<line x1="449.6" y1="86.44" x2="451.1" y2="86.44" stroke="#3a3a3a" stroke-width="0.7"/>
<line x1="680.3" y1="86.44" x2="678.8" y2="86.44" stroke="#3a3a3a" stroke-width="0.7"/>
<line x1="449.6" y1="84.78" x2="451.1" y2="84.78" stroke="#3a3a3a" stroke-width="0.7"/>
<line x1="680.3" y1="84.78" x2="678.8" y2="84.78" stroke="#3a3a3a" stroke-width="0.7"/>
<line x1="449.6" y1="83.3" x2="452.2" y2="83.3" stroke="#3a3a3a" stroke-width="0.7"/>
<line x1="680.3" y1="83.3" x2="677.7" y2="83.3" stroke="#3a3a3a" stroke-width="0.7"/>
<line x1="449.6" y1="73.55" x2="451.1" y2="73.55" stroke="#3a3a3a" stroke-width="0.7"/>
<line x1="680.3" y1="73.55" x2="678.8" y2="73.55" stroke="#3a3a3a" stroke-width="0.7"/>
<line x1="449.6" y1="67.84" x2="451.1" y2="67.84" stroke="#3a3a3a" stroke-width="0.7"/>
<line x1="680.3" y1="67.84" x2="678.8" y2="67.84" stroke="#3a3a3a" stroke-width="0.7"/>
<line x1="449.6" y1="63.79" x2="451.1" y2="63.79" stroke="#3a3a3a" stroke-width="0.7"/>
<line x1="680.3" y1="63.79" x2="678.8" y2="63.79" stroke="#3a3a3a" stroke-width="0.7"/>
<line x1="449.6" y1="60.65" x2="451.1" y2="60.65" stroke="#3a3a3a" stroke-width="0.7"/>
<line x1="680.3" y1="60.65" x2="678.8" y2="60.65" stroke="#3a3a3a" stroke-width="0.7"/>
<line x1="449.6" y1="58.09" x2="451.1" y2="58.09" stroke="#3a3a3a" stroke-width="0.7"/>
<line x1="680.3" y1="58.09" x2="678.8" y2="58.09" stroke="#3a3a3a" stroke-width="0.7"/>
<line x1="449.6" y1="55.92" x2="451.1" y2="55.92" stroke="#3a3a3a" stroke-width="0.7"/>
<line x1="680.3" y1="55.92" x2="678.8" y2="55.92" stroke="#3a3a3a" stroke-width="0.7"/>
<line x1="449.6" y1="54.04" x2="451.1" y2="54.04" stroke="#3a3a3a" stroke-width="0.7"/>
<line x1="680.3" y1="54.04" x2="678.8" y2="54.04" stroke="#3a3a3a" stroke-width="0.7"/>
<line x1="449.6" y1="52.38" x2="451.1" y2="52.38" stroke="#3a3a3a" stroke-width="0.7"/>
<line x1="680.3" y1="52.38" x2="678.8" y2="52.38" stroke="#3a3a3a" stroke-width="0.7"/>
<line x1="449.6" y1="50.9" x2="452.2" y2="50.9" stroke="#3a3a3a" stroke-width="0.7"/>
<line x1="680.3" y1="50.9" x2="677.7" y2="50.9" stroke="#3a3a3a" stroke-width="0.7"/>
<line x1="449.6" y1="41.15" x2="451.1" y2="41.15" stroke="#3a3a3a" stroke-width="0.7"/>
<line x1="680.3" y1="41.15" x2="678.8" y2="41.15" stroke="#3a3a3a" stroke-width="0.7"/>
<line x1="449.6" y1="35.44" x2="451.1" y2="35.44" stroke="#3a3a3a" stroke-width="0.7"/>
<line x1="680.3" y1="35.44" x2="678.8" y2="35.44" stroke="#3a3a3a" stroke-width="0.7"/>
<line x1="449.6" y1="31.39" x2="451.1" y2="31.39" stroke="#3a3a3a" stroke-width="0.7"/>
<line x1="680.3" y1="31.39" x2="678.8" y2="31.39" stroke="#3a3a3a" stroke-width="0.7"/>
<line x1="449.6" y1="28.25" x2="451.1" y2="28.25" stroke="#3a3a3a" stroke-width="0.7"/>
<line x1="680.3" y1="28.25" x2="678.8" y2="28.25" stroke="#3a3a3a" stroke-width="0.7"/>
<line x1="449.6" y1="25.69" x2="451.1" y2="25.69" stroke="#3a3a3a" stroke-width="0.7"/>
<line x1="680.3" y1="25.69" x2="678.8" y2="25.69" stroke="#3a3a3a" stroke-width="0.7"/>
<line x1="449.6" y1="23.52" x2="451.1" y2="23.52" stroke="#3a3a3a" stroke-width="0.7"/>
<line x1="680.3" y1="23.52" x2="678.8" y2="23.52" stroke="#3a3a3a" stroke-width="0.7"/>
<line x1="449.6" y1="21.64" x2="451.1" y2="21.64" stroke="#3a3a3a" stroke-width="0.7"/>
<line x1="680.3" y1="21.64" x2="678.8" y2="21.64" stroke="#3a3a3a" stroke-width="0.7"/>
<line x1="449.6" y1="19.98" x2="451.1" y2="19.98" stroke="#3a3a3a" stroke-width="0.7"/>
<line x1="680.3" y1="19.98" x2="678.8" y2="19.98" stroke="#3a3a3a" stroke-width="0.7"/>
<text x="446.2" y="218" font-size="10.2" font-weight="bold" fill="#222" text-anchor="end" letter-spacing="-0.3">10<tspan font-size="7.2" dy="-5.1">-3</tspan></text>
<text x="446.2" y="185.6" font-size="10.2" font-weight="bold" fill="#222" text-anchor="end" letter-spacing="-0.3">10<tspan font-size="7.2" dy="-5.1">-2</tspan></text>
<text x="446.2" y="153.2" font-size="10.2" font-weight="bold" fill="#222" text-anchor="end" letter-spacing="-0.3">10<tspan font-size="7.2" dy="-5.1">-1</tspan></text>
<text x="446.2" y="120.8" font-size="10.2" font-weight="bold" fill="#222" text-anchor="end" letter-spacing="-0.3">10<tspan font-size="7.2" dy="-5.1">0</tspan></text>
<text x="446.2" y="88.4" font-size="10.2" font-weight="bold" fill="#222" text-anchor="end" letter-spacing="-0.3">10<tspan font-size="7.2" dy="-5.1">1</tspan></text>
<text x="446.2" y="56" font-size="10.2" font-weight="bold" fill="#222" text-anchor="end" letter-spacing="-0.3">10<tspan font-size="7.2" dy="-5.1">2</tspan></text>
<text x="446.2" y="23.6" font-size="10.2" font-weight="bold" fill="#222" text-anchor="end" letter-spacing="-0.3">10<tspan font-size="7.2" dy="-5.1">3</tspan></text>
<text transform="translate(450.2,226.8) rotate(-36)" font-size="10" font-weight="bold" letter-spacing="-0.2" fill="#222" text-anchor="middle">La</text>
<text transform="translate(467.95,226.8) rotate(-36)" font-size="10" font-weight="bold" letter-spacing="-0.2" fill="#222" text-anchor="middle">Ce</text>
<text transform="translate(485.69,226.8) rotate(-36)" font-size="10" font-weight="bold" letter-spacing="-0.2" fill="#222" text-anchor="middle">Pr</text>
<text transform="translate(503.44,226.8) rotate(-36)" font-size="10" font-weight="bold" letter-spacing="-0.2" fill="#222" text-anchor="middle">Nd</text>
<text transform="translate(521.18,226.8) rotate(-36)" font-size="10" font-weight="bold" letter-spacing="-0.2" fill="#222" text-anchor="middle">Sm</text>
<text transform="translate(538.93,226.8) rotate(-36)" font-size="10" font-weight="bold" letter-spacing="-0.2" fill="#222" text-anchor="middle">Eu</text>
<text transform="translate(556.68,226.8) rotate(-36)" font-size="10" font-weight="bold" letter-spacing="-0.2" fill="#222" text-anchor="middle">Gd</text>
<text transform="translate(574.42,226.8) rotate(-36)" font-size="10" font-weight="bold" letter-spacing="-0.2" fill="#222" text-anchor="middle">Tb</text>
<text transform="translate(592.17,226.8) rotate(-36)" font-size="10" font-weight="bold" letter-spacing="-0.2" fill="#222" text-anchor="middle">Dy</text>
<text transform="translate(609.92,226.8) rotate(-36)" font-size="10" font-weight="bold" letter-spacing="-0.2" fill="#222" text-anchor="middle">Ho</text>
<text transform="translate(627.66,226.8) rotate(-36)" font-size="10" font-weight="bold" letter-spacing="-0.2" fill="#222" text-anchor="middle">Er</text>
<text transform="translate(645.41,226.8) rotate(-36)" font-size="10" font-weight="bold" letter-spacing="-0.2" fill="#222" text-anchor="middle">Tm</text>
<text transform="translate(663.15,226.8) rotate(-36)" font-size="10" font-weight="bold" letter-spacing="-0.2" fill="#222" text-anchor="middle">Yb</text>
<text transform="translate(680.9,226.8) rotate(-36)" font-size="10" font-weight="bold" letter-spacing="-0.2" fill="#222" text-anchor="middle">Lu</text>
<polyline points="520.58,139.35 538.33,135.46 556.08,122.18 573.82,104.68 591.57,89.78 609.32,78.44 627.06,71.96 644.81,66.45 662.55,61.27 680.3,55.44" fill="none" stroke="#000" stroke-width="1.0" stroke-linejoin="round"/>
<polyline points="520.58,139.35 538.33,124.77 556.08,117.64 573.82,102.09 591.57,87.19 609.32,76.17 627.06,69.69 644.81,63.86 662.55,58.03 680.3,52.52" fill="none" stroke="#000" stroke-width="1.0" stroke-linejoin="round"/>
<polyline points="449.6,161.06 467.35,158.79" fill="none" stroke="#000" stroke-width="1.0" stroke-linejoin="round"/>
<polyline points="449.6,162.68 467.35,168.19" fill="none" stroke="#000" stroke-width="1.0" stroke-linejoin="round"/>
<polyline points="556.08,129.16 573.82,106.41 591.57,89.61 609.32,73 627.06,66.02 644.81,57.53 662.55,49.05 680.3,41.21" fill="none" stroke="#000" stroke-width="1.05" stroke-linejoin="round"/>
<polyline points="556.08,130.36 573.82,106.79 591.57,89.38 609.32,73.6 627.06,68.2 644.81,61.04 662.55,53.88 680.3,47.38" fill="none" stroke="#000" stroke-width="1.05" stroke-linejoin="round"/>
<polyline points="556.08,130.38 573.82,109.89 591.57,91.41 609.32,74.36 627.06,66.91 644.81,60.09 662.55,53.28 680.3,47.11" fill="none" stroke="#000" stroke-width="1.05" stroke-linejoin="round"/>
<polyline points="573.82,119.36 591.57,92.06 609.32,77.6 627.06,69.55 644.81,64.61 662.55,59.68 680.3,55.39" fill="none" stroke="#000" stroke-width="1.05" stroke-linejoin="round"/>
<polyline points="556.08,130.69 573.82,109.27 591.57,92.82 609.32,78.14 627.06,66.75 644.81,62.53 662.55,58.31 680.3,54.74" fill="none" stroke="#000" stroke-width="1.05" stroke-linejoin="round"/>
<polyline points="556.08,130.42 573.82,109.83 591.57,94.06 609.32,80.53 627.06,72.7 644.81,67.18 662.55,61.65 680.3,56.78" fill="none" stroke="#000" stroke-width="1.05" stroke-linejoin="round"/>
<polyline points="556.08,130.11 573.82,110.62 591.57,96.13 609.32,79.73 627.06,74.37 644.81,67.03 662.55,59.68 680.3,52.99" fill="none" stroke="#000" stroke-width="1.05" stroke-linejoin="round"/>
<polyline points="556.08,131.03 573.82,113.76 591.57,96.37 609.32,81.54 627.06,70.72 644.81,65.84 662.55,60.97 680.3,56.75" fill="none" stroke="#000" stroke-width="1.05" stroke-linejoin="round"/>
<polyline points="573.82,121.74 591.57,98.1 609.32,81.91 627.06,75.19 644.81,69.45 662.55,63.7 680.3,58.6" fill="none" stroke="#000" stroke-width="1.05" stroke-linejoin="round"/>
<polyline points="556.08,131.65 573.82,113.7 591.57,99.64 609.32,84.62 627.06,74.14 644.81,67.75 662.55,61.35 680.3,55.6" fill="none" stroke="#000" stroke-width="1.05" stroke-linejoin="round"/>
<polyline points="556.08,130.86 573.82,116.28 591.57,101.05 609.32,84.71 627.06,78.12 644.81,70.08 662.55,62.03 680.3,54.64" fill="none" stroke="#000" stroke-width="1.05" stroke-linejoin="round"/>
<polyline points="556.08,130.8 573.82,116.66 591.57,100.79 609.32,87.64 627.06,74.68 644.81,70.26 662.55,65.83 680.3,62.06" fill="none" stroke="#000" stroke-width="1.05" stroke-linejoin="round"/>
<polyline points="573.82,122.82 591.57,101.49 609.32,89.5 627.06,81.74 644.81,73.25 662.55,64.77 680.3,56.93" fill="none" stroke="#000" stroke-width="1.05" stroke-linejoin="round"/>
<polyline points="556.08,131.31 573.82,116.79 591.57,102.9 609.32,90.23 627.06,82 644.81,77.3 662.55,72.6 680.3,68.54" fill="none" stroke="#000" stroke-width="1.05" stroke-linejoin="round"/>
<polyline points="556.08,131.7 573.82,118.65 591.57,105.07 609.32,90.24 627.06,84.32 644.81,79.69 662.55,75.06 680.3,71.09" fill="none" stroke="#000" stroke-width="1.05" stroke-linejoin="round"/>
<polyline points="573.82,123.74 591.57,106.26 609.32,92.46 627.06,84.6 644.81,77.91 662.55,71.23 680.3,65.19" fill="none" stroke="#000" stroke-width="1.05" stroke-linejoin="round"/>
<polyline points="556.08,138.38 573.82,119.35 591.57,106.02 609.32,93.38 627.06,81.31 644.81,76.42 662.55,71.54 680.3,67.3" fill="none" stroke="#000" stroke-width="1.05" stroke-linejoin="round"/>
<polyline points="538.33,124.77 556.08,105.01 573.82,86.22 591.57,72.28 609.32,67.1 627.06,67.1 644.81,71.96 662.55,74.23 680.3,75.85" fill="none" stroke="#b3312c" stroke-width="1.25" stroke-linejoin="round"/>
<polyline points="538.33,130.93 556.08,114.4 573.82,91.08 591.57,77.47 609.32,70.02 627.06,69.37 644.81,70.02 662.55,70.99 680.3,71.31" fill="none" stroke="#b3312c" stroke-width="1.25" stroke-linejoin="round"/>
<text transform="translate(425.9,115.2) rotate(-90)" font-size="10.7" font-weight="bold" fill="#222" text-anchor="middle">Zircon/Chondrite</text>
<text x="454.6" y="32.9" font-size="14.2" fill="#222" font-weight="normal" text-anchor="start" >c)</text>
<rect x="581" y="188.7" width="95.8" height="19.4" fill="#fff" stroke="#444" stroke-width="1"/>
<line x1="583.3" y1="194.4" x2="598.6" y2="194.4" stroke="#000" stroke-width="1"/>
<line x1="583.3" y1="202.7" x2="598.6" y2="202.7" stroke="#b3312c" stroke-width="1.2"/>
<text x="600.6" y="197" font-size="6.45" fill="#111" font-weight="bold" text-anchor="start" >MOL20-1 variable HREE</text>
<text x="600.6" y="205.4" font-size="6.45" fill="#111" font-weight="bold" text-anchor="start" >MOL20-1 flat HREE</text>
<rect x="449.5" y="261" width="230.3" height="195.3" fill="#fff" stroke="#3a3a3a" stroke-width="1.2"/>
<line x1="467.22" y1="456.3" x2="467.22" y2="453.7" stroke="#3a3a3a" stroke-width="0.9"/>
<line x1="467.22" y1="261" x2="467.22" y2="263.6" stroke="#3a3a3a" stroke-width="0.9"/>
<line x1="484.93" y1="456.3" x2="484.93" y2="453.7" stroke="#3a3a3a" stroke-width="0.9"/>
<line x1="484.93" y1="261" x2="484.93" y2="263.6" stroke="#3a3a3a" stroke-width="0.9"/>
<line x1="502.65" y1="456.3" x2="502.65" y2="453.7" stroke="#3a3a3a" stroke-width="0.9"/>
<line x1="502.65" y1="261" x2="502.65" y2="263.6" stroke="#3a3a3a" stroke-width="0.9"/>
<line x1="520.36" y1="456.3" x2="520.36" y2="453.7" stroke="#3a3a3a" stroke-width="0.9"/>
<line x1="520.36" y1="261" x2="520.36" y2="263.6" stroke="#3a3a3a" stroke-width="0.9"/>
<line x1="538.08" y1="456.3" x2="538.08" y2="453.7" stroke="#3a3a3a" stroke-width="0.9"/>
<line x1="538.08" y1="261" x2="538.08" y2="263.6" stroke="#3a3a3a" stroke-width="0.9"/>
<line x1="555.79" y1="456.3" x2="555.79" y2="453.7" stroke="#3a3a3a" stroke-width="0.9"/>
<line x1="555.79" y1="261" x2="555.79" y2="263.6" stroke="#3a3a3a" stroke-width="0.9"/>
<line x1="573.51" y1="456.3" x2="573.51" y2="453.7" stroke="#3a3a3a" stroke-width="0.9"/>
<line x1="573.51" y1="261" x2="573.51" y2="263.6" stroke="#3a3a3a" stroke-width="0.9"/>
<line x1="591.22" y1="456.3" x2="591.22" y2="453.7" stroke="#3a3a3a" stroke-width="0.9"/>
<line x1="591.22" y1="261" x2="591.22" y2="263.6" stroke="#3a3a3a" stroke-width="0.9"/>
<line x1="608.94" y1="456.3" x2="608.94" y2="453.7" stroke="#3a3a3a" stroke-width="0.9"/>
<line x1="608.94" y1="261" x2="608.94" y2="263.6" stroke="#3a3a3a" stroke-width="0.9"/>
<line x1="626.65" y1="456.3" x2="626.65" y2="453.7" stroke="#3a3a3a" stroke-width="0.9"/>
<line x1="626.65" y1="261" x2="626.65" y2="263.6" stroke="#3a3a3a" stroke-width="0.9"/>
<line x1="644.37" y1="456.3" x2="644.37" y2="453.7" stroke="#3a3a3a" stroke-width="0.9"/>
<line x1="644.37" y1="261" x2="644.37" y2="263.6" stroke="#3a3a3a" stroke-width="0.9"/>
<line x1="662.08" y1="456.3" x2="662.08" y2="453.7" stroke="#3a3a3a" stroke-width="0.9"/>
<line x1="662.08" y1="261" x2="662.08" y2="263.6" stroke="#3a3a3a" stroke-width="0.9"/>
<line x1="449.5" y1="456.3" x2="452.1" y2="456.3" stroke="#3a3a3a" stroke-width="0.7"/>
<line x1="679.8" y1="456.3" x2="677.2" y2="456.3" stroke="#3a3a3a" stroke-width="0.7"/>
<line x1="449.5" y1="446.5" x2="451" y2="446.5" stroke="#3a3a3a" stroke-width="0.7"/>
<line x1="679.8" y1="446.5" x2="678.3" y2="446.5" stroke="#3a3a3a" stroke-width="0.7"/>
<line x1="449.5" y1="440.77" x2="451" y2="440.77" stroke="#3a3a3a" stroke-width="0.7"/>
<line x1="679.8" y1="440.77" x2="678.3" y2="440.77" stroke="#3a3a3a" stroke-width="0.7"/>
<line x1="449.5" y1="436.7" x2="451" y2="436.7" stroke="#3a3a3a" stroke-width="0.7"/>
<line x1="679.8" y1="436.7" x2="678.3" y2="436.7" stroke="#3a3a3a" stroke-width="0.7"/>
<line x1="449.5" y1="433.55" x2="451" y2="433.55" stroke="#3a3a3a" stroke-width="0.7"/>
<line x1="679.8" y1="433.55" x2="678.3" y2="433.55" stroke="#3a3a3a" stroke-width="0.7"/>
<line x1="449.5" y1="430.97" x2="451" y2="430.97" stroke="#3a3a3a" stroke-width="0.7"/>
<line x1="679.8" y1="430.97" x2="678.3" y2="430.97" stroke="#3a3a3a" stroke-width="0.7"/>
<line x1="449.5" y1="428.79" x2="451" y2="428.79" stroke="#3a3a3a" stroke-width="0.7"/>
<line x1="679.8" y1="428.79" x2="678.3" y2="428.79" stroke="#3a3a3a" stroke-width="0.7"/>
<line x1="449.5" y1="426.9" x2="451" y2="426.9" stroke="#3a3a3a" stroke-width="0.7"/>
<line x1="679.8" y1="426.9" x2="678.3" y2="426.9" stroke="#3a3a3a" stroke-width="0.7"/>
<line x1="449.5" y1="425.24" x2="451" y2="425.24" stroke="#3a3a3a" stroke-width="0.7"/>
<line x1="679.8" y1="425.24" x2="678.3" y2="425.24" stroke="#3a3a3a" stroke-width="0.7"/>
<line x1="449.5" y1="423.75" x2="452.1" y2="423.75" stroke="#3a3a3a" stroke-width="0.7"/>
<line x1="679.8" y1="423.75" x2="677.2" y2="423.75" stroke="#3a3a3a" stroke-width="0.7"/>
<line x1="449.5" y1="413.95" x2="451" y2="413.95" stroke="#3a3a3a" stroke-width="0.7"/>
<line x1="679.8" y1="413.95" x2="678.3" y2="413.95" stroke="#3a3a3a" stroke-width="0.7"/>
<line x1="449.5" y1="408.22" x2="451" y2="408.22" stroke="#3a3a3a" stroke-width="0.7"/>
<line x1="679.8" y1="408.22" x2="678.3" y2="408.22" stroke="#3a3a3a" stroke-width="0.7"/>
<line x1="449.5" y1="404.15" x2="451" y2="404.15" stroke="#3a3a3a" stroke-width="0.7"/>
<line x1="679.8" y1="404.15" x2="678.3" y2="404.15" stroke="#3a3a3a" stroke-width="0.7"/>
<line x1="449.5" y1="401" x2="451" y2="401" stroke="#3a3a3a" stroke-width="0.7"/>
<line x1="679.8" y1="401" x2="678.3" y2="401" stroke="#3a3a3a" stroke-width="0.7"/>
<line x1="449.5" y1="398.42" x2="451" y2="398.42" stroke="#3a3a3a" stroke-width="0.7"/>
<line x1="679.8" y1="398.42" x2="678.3" y2="398.42" stroke="#3a3a3a" stroke-width="0.7"/>
<line x1="449.5" y1="396.24" x2="451" y2="396.24" stroke="#3a3a3a" stroke-width="0.7"/>
<line x1="679.8" y1="396.24" x2="678.3" y2="396.24" stroke="#3a3a3a" stroke-width="0.7"/>
<line x1="449.5" y1="394.35" x2="451" y2="394.35" stroke="#3a3a3a" stroke-width="0.7"/>
<line x1="679.8" y1="394.35" x2="678.3" y2="394.35" stroke="#3a3a3a" stroke-width="0.7"/>
<line x1="449.5" y1="392.69" x2="451" y2="392.69" stroke="#3a3a3a" stroke-width="0.7"/>
<line x1="679.8" y1="392.69" x2="678.3" y2="392.69" stroke="#3a3a3a" stroke-width="0.7"/>
<line x1="449.5" y1="391.2" x2="452.1" y2="391.2" stroke="#3a3a3a" stroke-width="0.7"/>
<line x1="679.8" y1="391.2" x2="677.2" y2="391.2" stroke="#3a3a3a" stroke-width="0.7"/>
<line x1="449.5" y1="381.4" x2="451" y2="381.4" stroke="#3a3a3a" stroke-width="0.7"/>
<line x1="679.8" y1="381.4" x2="678.3" y2="381.4" stroke="#3a3a3a" stroke-width="0.7"/>
<line x1="449.5" y1="375.67" x2="451" y2="375.67" stroke="#3a3a3a" stroke-width="0.7"/>
<line x1="679.8" y1="375.67" x2="678.3" y2="375.67" stroke="#3a3a3a" stroke-width="0.7"/>
<line x1="449.5" y1="371.6" x2="451" y2="371.6" stroke="#3a3a3a" stroke-width="0.7"/>
<line x1="679.8" y1="371.6" x2="678.3" y2="371.6" stroke="#3a3a3a" stroke-width="0.7"/>
<line x1="449.5" y1="368.45" x2="451" y2="368.45" stroke="#3a3a3a" stroke-width="0.7"/>
<line x1="679.8" y1="368.45" x2="678.3" y2="368.45" stroke="#3a3a3a" stroke-width="0.7"/>
<line x1="449.5" y1="365.87" x2="451" y2="365.87" stroke="#3a3a3a" stroke-width="0.7"/>
<line x1="679.8" y1="365.87" x2="678.3" y2="365.87" stroke="#3a3a3a" stroke-width="0.7"/>
<line x1="449.5" y1="363.69" x2="451" y2="363.69" stroke="#3a3a3a" stroke-width="0.7"/>
<line x1="679.8" y1="363.69" x2="678.3" y2="363.69" stroke="#3a3a3a" stroke-width="0.7"/>
<line x1="449.5" y1="361.8" x2="451" y2="361.8" stroke="#3a3a3a" stroke-width="0.7"/>
<line x1="679.8" y1="361.8" x2="678.3" y2="361.8" stroke="#3a3a3a" stroke-width="0.7"/>
<line x1="449.5" y1="360.14" x2="451" y2="360.14" stroke="#3a3a3a" stroke-width="0.7"/>
<line x1="679.8" y1="360.14" x2="678.3" y2="360.14" stroke="#3a3a3a" stroke-width="0.7"/>
<line x1="449.5" y1="358.65" x2="452.1" y2="358.65" stroke="#3a3a3a" stroke-width="0.7"/>
<line x1="679.8" y1="358.65" x2="677.2" y2="358.65" stroke="#3a3a3a" stroke-width="0.7"/>
<line x1="449.5" y1="348.85" x2="451" y2="348.85" stroke="#3a3a3a" stroke-width="0.7"/>
<line x1="679.8" y1="348.85" x2="678.3" y2="348.85" stroke="#3a3a3a" stroke-width="0.7"/>
<line x1="449.5" y1="343.12" x2="451" y2="343.12" stroke="#3a3a3a" stroke-width="0.7"/>
<line x1="679.8" y1="343.12" x2="678.3" y2="343.12" stroke="#3a3a3a" stroke-width="0.7"/>
<line x1="449.5" y1="339.05" x2="451" y2="339.05" stroke="#3a3a3a" stroke-width="0.7"/>
<line x1="679.8" y1="339.05" x2="678.3" y2="339.05" stroke="#3a3a3a" stroke-width="0.7"/>
<line x1="449.5" y1="335.9" x2="451" y2="335.9" stroke="#3a3a3a" stroke-width="0.7"/>
<line x1="679.8" y1="335.9" x2="678.3" y2="335.9" stroke="#3a3a3a" stroke-width="0.7"/>
<line x1="449.5" y1="333.32" x2="451" y2="333.32" stroke="#3a3a3a" stroke-width="0.7"/>
<line x1="679.8" y1="333.32" x2="678.3" y2="333.32" stroke="#3a3a3a" stroke-width="0.7"/>
<line x1="449.5" y1="331.14" x2="451" y2="331.14" stroke="#3a3a3a" stroke-width="0.7"/>
<line x1="679.8" y1="331.14" x2="678.3" y2="331.14" stroke="#3a3a3a" stroke-width="0.7"/>
<line x1="449.5" y1="329.25" x2="451" y2="329.25" stroke="#3a3a3a" stroke-width="0.7"/>
<line x1="679.8" y1="329.25" x2="678.3" y2="329.25" stroke="#3a3a3a" stroke-width="0.7"/>
<line x1="449.5" y1="327.59" x2="451" y2="327.59" stroke="#3a3a3a" stroke-width="0.7"/>
<line x1="679.8" y1="327.59" x2="678.3" y2="327.59" stroke="#3a3a3a" stroke-width="0.7"/>
<line x1="449.5" y1="326.1" x2="452.1" y2="326.1" stroke="#3a3a3a" stroke-width="0.7"/>
<line x1="679.8" y1="326.1" x2="677.2" y2="326.1" stroke="#3a3a3a" stroke-width="0.7"/>
<line x1="449.5" y1="316.3" x2="451" y2="316.3" stroke="#3a3a3a" stroke-width="0.7"/>
<line x1="679.8" y1="316.3" x2="678.3" y2="316.3" stroke="#3a3a3a" stroke-width="0.7"/>
<line x1="449.5" y1="310.57" x2="451" y2="310.57" stroke="#3a3a3a" stroke-width="0.7"/>
<line x1="679.8" y1="310.57" x2="678.3" y2="310.57" stroke="#3a3a3a" stroke-width="0.7"/>
<line x1="449.5" y1="306.5" x2="451" y2="306.5" stroke="#3a3a3a" stroke-width="0.7"/>
<line x1="679.8" y1="306.5" x2="678.3" y2="306.5" stroke="#3a3a3a" stroke-width="0.7"/>
<line x1="449.5" y1="303.35" x2="451" y2="303.35" stroke="#3a3a3a" stroke-width="0.7"/>
<line x1="679.8" y1="303.35" x2="678.3" y2="303.35" stroke="#3a3a3a" stroke-width="0.7"/>
<line x1="449.5" y1="300.77" x2="451" y2="300.77" stroke="#3a3a3a" stroke-width="0.7"/>
<line x1="679.8" y1="300.77" x2="678.3" y2="300.77" stroke="#3a3a3a" stroke-width="0.7"/>
<line x1="449.5" y1="298.59" x2="451" y2="298.59" stroke="#3a3a3a" stroke-width="0.7"/>
<line x1="679.8" y1="298.59" x2="678.3" y2="298.59" stroke="#3a3a3a" stroke-width="0.7"/>
<line x1="449.5" y1="296.7" x2="451" y2="296.7" stroke="#3a3a3a" stroke-width="0.7"/>
<line x1="679.8" y1="296.7" x2="678.3" y2="296.7" stroke="#3a3a3a" stroke-width="0.7"/>
<line x1="449.5" y1="295.04" x2="451" y2="295.04" stroke="#3a3a3a" stroke-width="0.7"/>
<line x1="679.8" y1="295.04" x2="678.3" y2="295.04" stroke="#3a3a3a" stroke-width="0.7"/>
<line x1="449.5" y1="293.55" x2="452.1" y2="293.55" stroke="#3a3a3a" stroke-width="0.7"/>
<line x1="679.8" y1="293.55" x2="677.2" y2="293.55" stroke="#3a3a3a" stroke-width="0.7"/>
<line x1="449.5" y1="283.75" x2="451" y2="283.75" stroke="#3a3a3a" stroke-width="0.7"/>
<line x1="679.8" y1="283.75" x2="678.3" y2="283.75" stroke="#3a3a3a" stroke-width="0.7"/>
<line x1="449.5" y1="278.02" x2="451" y2="278.02" stroke="#3a3a3a" stroke-width="0.7"/>
<line x1="679.8" y1="278.02" x2="678.3" y2="278.02" stroke="#3a3a3a" stroke-width="0.7"/>
<line x1="449.5" y1="273.95" x2="451" y2="273.95" stroke="#3a3a3a" stroke-width="0.7"/>
<line x1="679.8" y1="273.95" x2="678.3" y2="273.95" stroke="#3a3a3a" stroke-width="0.7"/>
<line x1="449.5" y1="270.8" x2="451" y2="270.8" stroke="#3a3a3a" stroke-width="0.7"/>
<line x1="679.8" y1="270.8" x2="678.3" y2="270.8" stroke="#3a3a3a" stroke-width="0.7"/>
<line x1="449.5" y1="268.22" x2="451" y2="268.22" stroke="#3a3a3a" stroke-width="0.7"/>
<line x1="679.8" y1="268.22" x2="678.3" y2="268.22" stroke="#3a3a3a" stroke-width="0.7"/>
<line x1="449.5" y1="266.04" x2="451" y2="266.04" stroke="#3a3a3a" stroke-width="0.7"/>
<line x1="679.8" y1="266.04" x2="678.3" y2="266.04" stroke="#3a3a3a" stroke-width="0.7"/>
<line x1="449.5" y1="264.15" x2="451" y2="264.15" stroke="#3a3a3a" stroke-width="0.7"/>
<line x1="679.8" y1="264.15" x2="678.3" y2="264.15" stroke="#3a3a3a" stroke-width="0.7"/>
<line x1="449.5" y1="262.49" x2="451" y2="262.49" stroke="#3a3a3a" stroke-width="0.7"/>
<line x1="679.8" y1="262.49" x2="678.3" y2="262.49" stroke="#3a3a3a" stroke-width="0.7"/>
<text x="446.1" y="461.4" font-size="10.2" font-weight="bold" fill="#222" text-anchor="end" letter-spacing="-0.3">10<tspan font-size="7.2" dy="-5.1">-3</tspan></text>
<text x="446.1" y="428.85" font-size="10.2" font-weight="bold" fill="#222" text-anchor="end" letter-spacing="-0.3">10<tspan font-size="7.2" dy="-5.1">-2</tspan></text>
<text x="446.1" y="396.3" font-size="10.2" font-weight="bold" fill="#222" text-anchor="end" letter-spacing="-0.3">10<tspan font-size="7.2" dy="-5.1">-1</tspan></text>
<text x="446.1" y="363.75" font-size="10.2" font-weight="bold" fill="#222" text-anchor="end" letter-spacing="-0.3">10<tspan font-size="7.2" dy="-5.1">0</tspan></text>
<text x="446.1" y="331.2" font-size="10.2" font-weight="bold" fill="#222" text-anchor="end" letter-spacing="-0.3">10<tspan font-size="7.2" dy="-5.1">1</tspan></text>
<text x="446.1" y="298.65" font-size="10.2" font-weight="bold" fill="#222" text-anchor="end" letter-spacing="-0.3">10<tspan font-size="7.2" dy="-5.1">2</tspan></text>
<text x="446.1" y="266.1" font-size="10.2" font-weight="bold" fill="#222" text-anchor="end" letter-spacing="-0.3">10<tspan font-size="7.2" dy="-5.1">3</tspan></text>
<text transform="translate(450.1,470.2) rotate(-36)" font-size="10" font-weight="bold" letter-spacing="-0.2" fill="#222" text-anchor="middle">La</text>
<text transform="translate(467.82,470.2) rotate(-36)" font-size="10" font-weight="bold" letter-spacing="-0.2" fill="#222" text-anchor="middle">Ce</text>
<text transform="translate(485.53,470.2) rotate(-36)" font-size="10" font-weight="bold" letter-spacing="-0.2" fill="#222" text-anchor="middle">Pr</text>
<text transform="translate(503.25,470.2) rotate(-36)" font-size="10" font-weight="bold" letter-spacing="-0.2" fill="#222" text-anchor="middle">Nd</text>
<text transform="translate(520.96,470.2) rotate(-36)" font-size="10" font-weight="bold" letter-spacing="-0.2" fill="#222" text-anchor="middle">Sm</text>
<text transform="translate(538.68,470.2) rotate(-36)" font-size="10" font-weight="bold" letter-spacing="-0.2" fill="#222" text-anchor="middle">Eu</text>
<text transform="translate(556.39,470.2) rotate(-36)" font-size="10" font-weight="bold" letter-spacing="-0.2" fill="#222" text-anchor="middle">Gd</text>
<text transform="translate(574.11,470.2) rotate(-36)" font-size="10" font-weight="bold" letter-spacing="-0.2" fill="#222" text-anchor="middle">Tb</text>
<text transform="translate(591.82,470.2) rotate(-36)" font-size="10" font-weight="bold" letter-spacing="-0.2" fill="#222" text-anchor="middle">Dy</text>
<text transform="translate(609.54,470.2) rotate(-36)" font-size="10" font-weight="bold" letter-spacing="-0.2" fill="#222" text-anchor="middle">Ho</text>
<text transform="translate(627.25,470.2) rotate(-36)" font-size="10" font-weight="bold" letter-spacing="-0.2" fill="#222" text-anchor="middle">Er</text>
<text transform="translate(644.97,470.2) rotate(-36)" font-size="10" font-weight="bold" letter-spacing="-0.2" fill="#222" text-anchor="middle">Tm</text>
<text transform="translate(662.68,470.2) rotate(-36)" font-size="10" font-weight="bold" letter-spacing="-0.2" fill="#222" text-anchor="middle">Yb</text>
<text transform="translate(680.4,470.2) rotate(-36)" font-size="10" font-weight="bold" letter-spacing="-0.2" fill="#222" text-anchor="middle">Lu</text>
<polyline points="449.5,387.94 467.22,373.95 484.93,383.06 502.65,377.85 520.36,351.16 538.08,338.47 555.79,322.19 573.51,312.43 591.22,306.9 608.94,304.29 626.65,304.62 644.37,307.22 662.08,305.27 679.8,303.31" fill="none" stroke="#000" stroke-width="1.1" stroke-linejoin="round"/>
<polyline points="449.5,390.22 467.22,367.44 484.93,389.9 502.65,386.64 520.36,354.74 538.08,339.77 555.79,333.91 573.51,319.59 591.22,310.48 608.94,306.57 626.65,305.27 644.37,308.2 662.08,305.92 679.8,304.62" fill="none" stroke="#000" stroke-width="1.1" stroke-linejoin="round"/>
<polyline points="449.5,394.46 467.22,375.9 484.93,392.5 502.65,389.25 520.36,361.58 538.08,346.93 555.79,324.15 573.51,314.06 591.22,308.52 608.94,305.92 626.65,306.57 644.37,309.17 662.08,307.22 679.8,305.92" fill="none" stroke="#000" stroke-width="1.1" stroke-linejoin="round"/>
<polyline points="449.5,397.06 467.22,380.46 484.93,394.46 502.65,391.85 520.36,363.86 538.08,349.54 555.79,335.87 573.51,316.66 591.22,310.48 608.94,308.2 626.65,307.22 644.37,309.82 662.08,308.2 679.8,308.2" fill="none" stroke="#000" stroke-width="1.1" stroke-linejoin="round"/>
<polyline points="449.5,399.66 467.22,381.76 484.93,397.06 502.65,394.46 520.36,365.49 538.08,354.74 555.79,338.47 573.51,324.15 591.22,313.08 608.94,309.82 626.65,308.2 644.37,310.48 662.08,309.82 679.8,309.82" fill="none" stroke="#000" stroke-width="1.1" stroke-linejoin="round"/>
<polyline points="449.5,404.87 467.22,383.06 484.93,400.31 502.65,389.25 520.36,369.39 538.08,360.28 555.79,342.05 573.51,326.75 591.22,315.03 608.94,311.13 626.65,309.17 644.37,311.45 662.08,311.13 679.8,311.45" fill="none" stroke="#000" stroke-width="1.1" stroke-linejoin="round"/>
<polyline points="449.5,407.48 467.22,386.64 484.93,401.62 502.65,399.66 520.36,372 538.08,366.79 555.79,345.96 573.51,326.75 591.22,316.66 608.94,312.43 626.65,309.82 644.37,312.43 662.08,312.43 679.8,312.43" fill="none" stroke="#000" stroke-width="1.1" stroke-linejoin="round"/>
<polyline points="449.5,410.08 467.22,387.94 484.93,410.73 502.65,408.78 520.36,374.93 538.08,371.34 555.79,345.96 573.51,324.15 591.22,315.03 608.94,311.78 626.65,310.48 644.37,313.08 662.08,313.08 679.8,313.73" fill="none" stroke="#000" stroke-width="1.1" stroke-linejoin="round"/>
<polyline points="449.5,414.64 467.22,386.64 484.93,400.31 502.65,404.22 520.36,380.46 538.08,360.28 555.79,335.87 573.51,319.59 591.22,313.08 608.94,309.82 626.65,309.17 644.37,311.78 662.08,311.45 679.8,311.45" fill="none" stroke="#000" stroke-width="1.1" stroke-linejoin="round"/>
<polyline points="449.5,399.66 467.22,375.9 484.93,394.46 502.65,394.46 520.36,373.95 538.08,354.74 555.79,338.47 573.51,316.66 591.22,308.52 608.94,307.22 626.65,307.87 644.37,309.82 662.08,307.22 679.8,306.57" fill="none" stroke="#000" stroke-width="1.1" stroke-linejoin="round"/>
<text transform="translate(425.6,358.6) rotate(-90)" font-size="10.7" font-weight="bold" fill="#222" text-anchor="middle">Zircon/Chondrite</text>
<text x="454.5" y="279.9" font-size="14.2" fill="#222" font-weight="normal" text-anchor="start" letter-spacing="1.6">f)</text>
</svg>
</body></html>
